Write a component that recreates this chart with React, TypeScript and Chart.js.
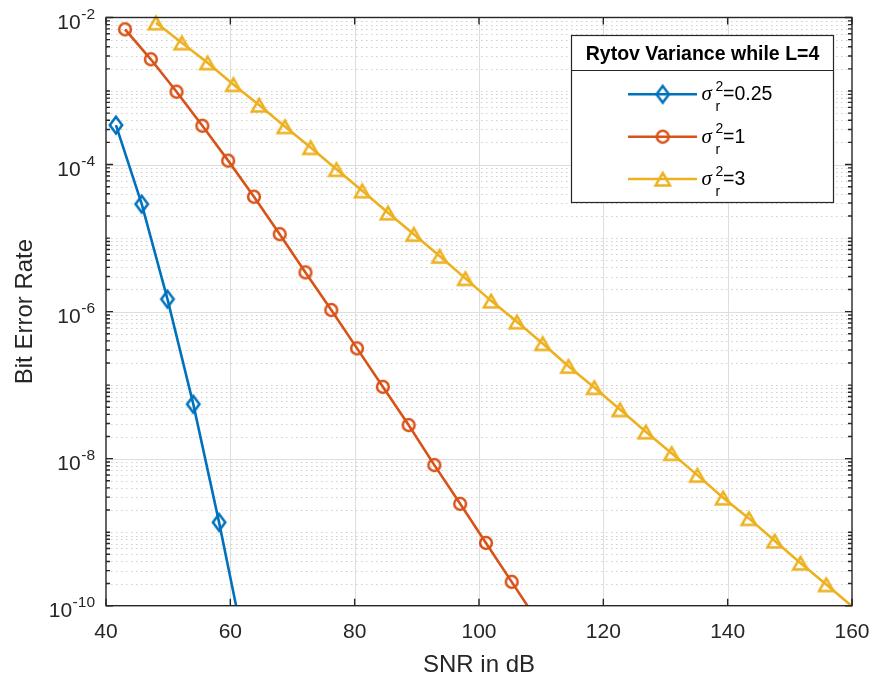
import React, { useEffect, useRef } from 'react';
import { Chart, registerables } from 'chart.js';

Chart.register(...registerables);

// ---- data ----
const blueSNR = [41.6, 45.75, 49.89, 54.04, 58.19, 62.34];
const blueBER = [3.44e-4, 2.9e-5, 1.48e-6, 5.51e-8, 1.36e-9, 2.6e-11];

const orangeSNR = [43.06, 47.21, 51.35, 55.5, 59.65, 63.8, 67.94, 72.09, 76.24, 80.38, 84.53, 88.68, 92.82, 96.97, 101.12, 105.26, 109.41];
const orangeBER = [6.9e-3, 2.7e-3, 9.79e-4, 3.37e-4, 1.13e-4, 3.65e-5, 1.13e-5, 3.41e-6, 1.05e-6, 3.16e-7, 9.48e-8, 2.86e-8, 8.17e-9, 2.43e-9, 7.14e-10, 2.11e-10, 6.2e-11];

const yellowSNR = [48.04, 52.19, 56.33, 60.48, 64.63, 68.77, 72.92, 77.07, 81.21, 85.36, 89.51, 93.66, 97.8, 101.95, 106.1, 110.24, 114.39, 118.54, 122.68, 126.83, 130.98, 135.12, 139.27, 143.42, 147.56, 151.71, 155.86, 160.0];
const yellowBER = [8.49e-3, 4.54e-3, 2.43e-3, 1.23e-3, 6.46e-4, 3.29e-4, 1.71e-4, 8.61e-5, 4.41e-5, 2.21e-5, 1.13e-5, 5.69e-6, 2.83e-6, 1.4e-6, 7.27e-7, 3.69e-7, 1.81e-7, 9.31e-8, 4.65e-8, 2.32e-8, 1.18e-8, 5.97e-9, 2.93e-9, 1.54e-9, 7.62e-10, 3.82e-10, 1.94e-10, 0.98e-10];

const seriesValues = ['0.25', '1', '3'];
const seriesColors = ['#0072BD', '#D95319', '#EDB120'];
const seriesMarkers = ['diamond', 'circle', 'triangle'];
const legendTitle = 'Rytov Variance while L=4';
const xTitle = 'SNR in dB';
const yTitle = 'Bit Error Rate';
const xTicks = [40, 60, 80, 100, 120, 140, 160];
const yTickExps = [-2, -4, -6, -8, -10];
const X_MIN = 40;
const X_MAX = 160;
const Y_MIN = 1e-10;
const Y_MAX = 1e-2;

const FONT = '"Liberation Sans", Arial, Helvetica, sans-serif';
const TEXT = '#262626';
const LINE_W = 2.6;

function makeMarker(kind: string, color: string): HTMLCanvasElement {
  const c = document.createElement('canvas');
  const size = 26;
  c.width = size;
  c.height = size;
  const g = c.getContext('2d')!;
  g.strokeStyle = color;
  g.lineWidth = 2.5;
  g.lineJoin = 'miter';
  const m = size / 2;
  g.beginPath();
  if (kind === 'diamond') {
    g.moveTo(m, m - 8.3);
    g.lineTo(m + 6.2, m);
    g.lineTo(m, m + 8.3);
    g.lineTo(m - 6.2, m);
    g.closePath();
  } else if (kind === 'circle') {
    g.arc(m, m, 5.9, 0, Math.PI * 2);
  } else {
    g.moveTo(m, m - 6.0);
    g.lineTo(m + 7.2, m + 6.4);
    g.lineTo(m - 7.2, m + 6.4);
    g.closePath();
  }
  g.stroke();
  return c;
}

export default function App() {
  const ref = useRef<HTMLCanvasElement | null>(null);

  useEffect(() => {
    const canvas = ref.current;
    if (!canvas) return;
    const markers = seriesMarkers.map((k, i) => makeMarker(k, seriesColors[i]));
    const xs = [blueSNR, orangeSNR, yellowSNR];
    const ys = [blueBER, orangeBER, yellowBER];

    const datasets = xs.map((xArr, i) => ({
      label: seriesValues[i],
      data: xArr.map((x, j) => ({ x, y: ys[i][j] })),
      borderColor: seriesColors[i],
      backgroundColor: 'transparent',
      borderWidth: LINE_W,
      pointStyle: markers[i],
      pointRadius: (ctx: any) => (ctx.raw && ctx.raw.y >= Y_MIN ? 6 : 0),
      pointHoverRadius: 0,
      tension: 0,
      clip: { left: 12, top: 12, right: 12, bottom: 0 },
    }));

    const decor = {
      id: 'matlabDecor',
      beforeDatasetsDraw(chart: any) {
        const { ctx, chartArea: a } = chart;
        const xs_ = chart.scales.x;
        const ys_ = chart.scales.y;
        ctx.save();
        // minor dotted horizontal grid
        ctx.strokeStyle = '#cfcfcf';
        ctx.lineWidth = 1;
        ctx.setLineDash([1.5, 3.5]);
        for (let e = -10; e < -2; e++) {
          for (let k = 1; k <= 9; k++) {
            if (k === 1 && e % 2 === 0) continue;
            const v = k * Math.pow(10, e);
            const py = Math.round(ys_.getPixelForValue(v)) + 0.5;
            if (py <= a.top + 1 || py >= a.bottom - 1) continue;
            ctx.beginPath();
            ctx.moveTo(a.left, py);
            ctx.lineTo(a.right, py);
            ctx.stroke();
          }
        }
        ctx.setLineDash([]);
        // major grid
        ctx.strokeStyle = '#dedede';
        for (const e of yTickExps) {
          const py = Math.round(ys_.getPixelForValue(Math.pow(10, e))) + 0.5;
          if (py <= a.top + 1 || py >= a.bottom - 1) continue;
          ctx.beginPath();
          ctx.moveTo(a.left, py);
          ctx.lineTo(a.right, py);
          ctx.stroke();
        }
        for (const t of xTicks) {
          const px = Math.round(xs_.getPixelForValue(t)) + 0.5;
          if (px <= a.left + 1 || px >= a.right - 1) continue;
          ctx.beginPath();
          ctx.moveTo(px, a.top);
          ctx.lineTo(px, a.bottom);
          ctx.stroke();
        }
        ctx.restore();
      },
      afterDatasetsDraw(chart: any) {
        const { ctx, chartArea: a } = chart;
        const xs_ = chart.scales.x;
        const ys_ = chart.scales.y;
        ctx.save();
        // box
        ctx.strokeStyle = TEXT;
        ctx.lineWidth = 1.4;
        ctx.strokeRect(a.left, a.top, a.right - a.left, a.bottom - a.top);
        // x ticks
        for (const t of xTicks) {
          const px = xs_.getPixelForValue(t);
          ctx.beginPath();
          ctx.moveTo(px, a.bottom);
          ctx.lineTo(px, a.bottom - 7);
          ctx.moveTo(px, a.top);
          ctx.lineTo(px, a.top + 7);
          ctx.stroke();
        }
        // y ticks
        for (let e = -10; e <= -2; e++) {
          for (let k = 1; k <= 9; k++) {
            const v = k * Math.pow(10, e);
            if (v > Y_MAX * 1.0001) continue;
            const py = ys_.getPixelForValue(v);
            const major = k === 1 && e % 2 === 0;
            const len = major ? 7 : 4;
            ctx.beginPath();
            ctx.moveTo(a.left, py);
            ctx.lineTo(a.left + len, py);
            ctx.moveTo(a.right, py);
            ctx.lineTo(a.right - len, py);
            ctx.stroke();
          }
        }
        // x tick labels
        ctx.fillStyle = TEXT;
        ctx.font = `21px ${FONT}`;
        ctx.textAlign = 'center';
        ctx.textBaseline = 'alphabetic';
        for (const t of xTicks) {
          ctx.fillText(String(t), xs_.getPixelForValue(t), a.bottom + 32.5);
        }
        // y tick labels 10^e
        ctx.textAlign = 'left';
        for (const e of yTickExps) {
          const py = ys_.getPixelForValue(Math.pow(10, e));
          const sup = '-' + Math.abs(e);
          ctx.font = `21px ${FONT}`;
          const w10 = ctx.measureText('10').width;
          ctx.font = `15.5px ${FONT}`;
          const ws = ctx.measureText(sup).width;
          const x0 = a.left - 11 - w10 - ws - 0.5;
          ctx.font = `21px ${FONT}`;
          ctx.fillText('10', x0, py + 11.3);
          ctx.font = `15.5px ${FONT}`;
          ctx.fillText(sup, x0 + w10 + 0.5, py + 1.3);
        }
        // axis titles
        ctx.font = `24px ${FONT}`;
        ctx.textAlign = 'center';
        ctx.fillText(xTitle, (a.left + a.right) / 2, 672);
        ctx.save();
        ctx.translate(31.5, (a.top + a.bottom) / 2);
        ctx.rotate(-Math.PI / 2);
        ctx.fillText(yTitle, 0, 0);
        ctx.restore();

        // legend
        const L = 571.5, T = 35.5, R = 833.5, B = 202.5, SEP = 70.5;
        ctx.fillStyle = '#ffffff';
        ctx.fillRect(L, T, R - L, B - T);
        ctx.strokeStyle = '#262626';
        ctx.lineWidth = 1.2;
        ctx.strokeRect(L, T, R - L, B - T);
        ctx.beginPath();
        ctx.moveTo(L, SEP);
        ctx.lineTo(R, SEP);
        ctx.stroke();
        ctx.fillStyle = '#000000';
        ctx.font = `bold 19.5px ${FONT}`;
        ctx.textAlign = 'center';
        ctx.fillText(legendTitle, (L + R) / 2, 60);
        const rows = [94.3, 136.7, 179];
        rows.forEach((ry, i) => {
          ctx.strokeStyle = seriesColors[i];
          ctx.lineWidth = LINE_W;
          ctx.beginPath();
          ctx.moveTo(628, ry);
          ctx.lineTo(697, ry);
          ctx.stroke();
          const mk = markers[i];
          ctx.drawImage(mk, 662.7 - mk.width / 2, ry - mk.height / 2);
          ctx.fillStyle = '#000000';
          ctx.textAlign = 'left';
          ctx.font = `italic 21px "Liberation Serif", serif`;
          ctx.fillText('\u03C3', 701.5, ry + 6);
          ctx.font = `14px ${FONT}`;
          ctx.fillText('2', 715.5, ry - 3.5);
          ctx.fillText('r', 715.5, ry + 17);
          ctx.font = `19.5px ${FONT}`;
          ctx.fillText('=' + seriesValues[i], 723, ry + 6);
        });
        ctx.restore();
      },
    };

    const chart = new Chart(canvas, {
      type: 'line',
      data: { datasets: datasets as any },
      options: {
        responsive: false,
        animation: false,
        events: [],
        parsing: true,
        layout: { padding: { top: 17.5, right: 22, left: 0, bottom: 0 } },
        plugins: { legend: { display: false }, tooltip: { enabled: false }, title: { display: false } },
        scales: {
          x: {
            type: 'linear',
            min: X_MIN,
            max: X_MAX,
            grid: { display: false },
            border: { display: false },
            ticks: { display: false },
            afterFit: (s: any) => { s.height = 682 - 605.7; },
          },
          y: {
            type: 'logarithmic',
            min: Y_MIN,
            max: Y_MAX,
            grid: { display: false },
            border: { display: false },
            ticks: { display: false },
            afterFit: (s: any) => { s.width = 106; },
          },
        },
      } as any,
      plugins: [decor],
    });
    return () => chart.destroy();
  }, []);

  return (
    <div style={{ position: 'fixed', left: 0, top: 0, width: 874, height: 682, background: '#ffffff' }}>
      <canvas ref={ref} width={874} height={682} style={{ display: 'block' }} />
    </div>
  );
}
